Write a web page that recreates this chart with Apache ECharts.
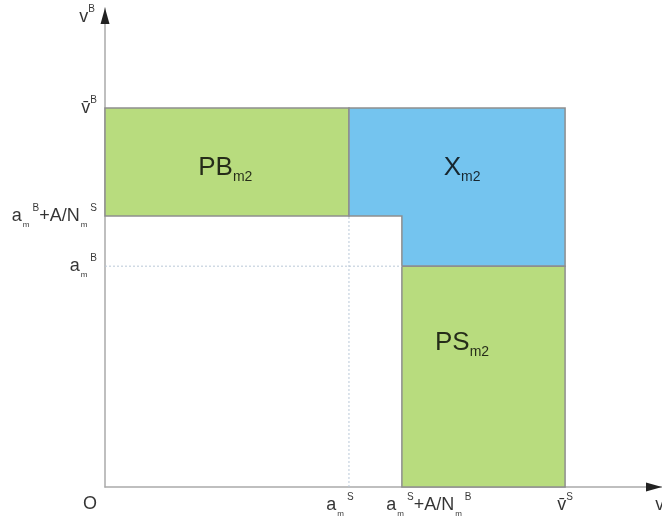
<!DOCTYPE html>
<html><head><meta charset="utf-8">
<script src="https://cdn.jsdelivr.net/npm/echarts@6/dist/echarts.min.js"></script>
<style>html,body{margin:0;padding:0;background:#fff}#c{width:662px;height:519px}</style>
</head><body><div id="c"></div>
<script>
// threshold levels (axis units, 0..100)
const xLevels = [43.8, 53.3, 82.6];   // a_m^S, a_m^S + A/N_m^B, v̄^S
const yLevels = [46.1, 56.6, 79.1];   // a_m^B, a_m^B + A/N_m^S, v̄^B
const xTickLabels = ['{n|a}{sub|m}{sup|S}', '{n|a}{sub|m}{sup|S}{n|+A/N}{sub|m}{sup|B}', '{n|v\u0304}{sup0|S}'];
const yTickLabels = ['{n|a}{sub|m}{sup|B}', '{n|a}{sub|m}{sup|B}{n|+A/N}{sub|m}{sup|S}', '{n|v\u0304}{sup0|B}'];
const regionNames = ['{b|PB}{bs|m2}', '{b|X}{bs|m2}', '{b|PS}{bs|m2}'];
const regionLabelPos = [[21.6, 66.7], [64.1, 66.7], [64.1, 30.2]];
const axisMax = 100;

const [aS, aS2, vS] = xLevels;
const [aB, aB2, vB] = yLevels;
const polygons = [
  [[0, aB2], [aS, aB2], [aS, vB], [0, vB]],
  [[aS, vB], [vS, vB], [vS, aB], [aS2, aB], [aS2, aB2], [aS, aB2]],
  [[aS2, 0], [vS, 0], [vS, aB], [aS2, aB]]
];
const colors = ['#b8dc7e', '#74c4ef', '#b8dc7e'];

const F = 'Liberation Sans, Arial, sans-serif';
const C = '#000';
const rich = {
  n: {fontSize: 18, lineHeight: 30, color: C, fontFamily: F},
  sub: {fontSize: 8, verticalAlign: 'bottom', color: C, fontFamily: F, padding: [0, 0, 2, 1]},
  sup: {fontSize: 10, verticalAlign: 'top', color: C, fontFamily: F, padding: [2, 0, 0, 3]},
  sup0: {fontSize: 10, verticalAlign: 'top', color: C, fontFamily: F, padding: [2, 0, 0, 0]},
  b: {fontSize: 26, lineHeight: 34, color: C, fontFamily: F},
  bs: {fontSize: 14, verticalAlign: 'bottom', color: C, fontFamily: F}
};

const chart = echarts.init(document.getElementById('c'));
chart.setOption({
  animation: false,
  grid: {left: 105, right: 0, top: 8, bottom: 32},
  xAxis: {type: 'value', min: 0, max: axisMax, axisLine: {lineStyle: {color: '#aaa', width: 1.5}},
    axisTick: {show: false}, axisLabel: {show: false}, splitLine: {show: false}},
  yAxis: {type: 'value', min: 0, max: axisMax, axisLine: {lineStyle: {color: '#aaa', width: 1.5}},
    axisTick: {show: false}, axisLabel: {show: false}, splitLine: {show: false}},
  series: [
    {type: 'line', symbol: 'none', silent: true, data: [[aS, 0], [aS, aB2]],
      lineStyle: {color: '#b9c8d8', width: 1, type: [2, 2]}},
    {type: 'line', symbol: 'none', silent: true, data: [[0, aB], [aS2, aB]],
      lineStyle: {color: '#b9c8d8', width: 1, type: [2, 2]}},
    {type: 'custom', silent: true, clip: false,
      data: regionLabelPos,
      renderItem: function (params, api) {
        const pts = polygons[params.dataIndex].map(p => api.coord(p));
        return {type: 'polygon', shape: {points: pts},
          style: {fill: colors[params.dataIndex], stroke: '#8e8e8e', lineWidth: 1.5}};
      }},
    {type: 'custom', silent: true, clip: false,
      data: [[0, axisMax], [axisMax, 0]],
      renderItem: function (params, api) {
        const p = api.coord([api.value(0), api.value(1)]);
        let pts;
        if (params.dataIndex === 0) pts = [[p[0], p[1]], [p[0] - 4.5, p[1] + 16], [p[0] + 4.5, p[1] + 16]];
        else pts = [[p[0], p[1]], [p[0] - 16, p[1] - 4.5], [p[0] - 16, p[1] + 4.5]];
        return {type: 'polygon', shape: {points: pts}, style: {fill: '#222'}};
      }},
    {type: 'scatter', symbolSize: 0, silent: true,
      data: regionLabelPos.map((p, i) => ({value: p, label: {formatter: regionNames[i]}})),
      label: {show: true, position: 'inside', color: C, rich: rich}},
    {type: 'scatter', symbolSize: 0, silent: true,
      data: yLevels.map((v, i) => ({value: [0, v], label: {formatter: yTickLabels[i]}})),
      label: {show: true, position: 'left', distance: 8, color: C, rich: rich}},
    {type: 'scatter', symbolSize: 0, silent: true,
      data: xLevels.map((v, i) => ({value: [v, 0], label: {formatter: xTickLabels[i],
        offset: i === 1 ? [27, 0] : (i === 0 ? [-9, 0] : [0, 0])}})),
      label: {show: true, position: 'bottom', distance: 3, color: C, rich: rich}},
    {type: 'scatter', symbolSize: 0, silent: true,
      data: [
        {value: [0, axisMax], label: {formatter: '{n|v}{sup0|B}', position: 'left', distance: 10, offset: [0, 9]}},
        {value: [axisMax, 0], label: {formatter: '{n|v}{sup0|S}', position: 'bottom', distance: 3, offset: [1, 0]}},
        {value: [0, 0], label: {formatter: '{n|O}', position: 'bottom', distance: 2, offset: [-15, 0]}}
      ],
      label: {show: true, color: C, rich: rich}}
  ]
});
</script></body></html>
